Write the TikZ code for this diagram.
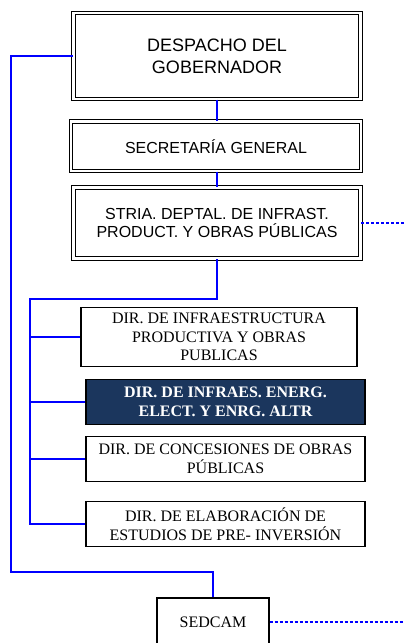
\documentclass[tikz,border=0pt]{standalone}
\usepackage{fontspec}
\setmainfont{Liberation Serif}
\newfontfamily\arialf{Liberation Sans}
\definecolor{navy}{HTML}{1B365D}
\definecolor{linkblue}{RGB}{0,0,255}
\begin{document}
\begin{tikzpicture}[x=1pt,y=-1pt,
  dbox/.style={draw=black,line width=1.1pt,double=white,double distance=2.6pt,
    inner sep=0pt,align=center,font=\arialf\fontsize{16}{18}\selectfont},
  sbox/.style={draw=black,line width=1.2pt,fill=white,inner sep=0pt,align=center,
    font=\fontsize{16}{18.5}\selectfont},
  link/.style={draw=linkblue,line width=1.4pt},
  dlink/.style={draw=linkblue,line width=1.3pt,dash pattern=on 3pt off 2pt}
]
\clip (0,0) rectangle (404,643);
\fill[white] (0,0) rectangle (404,643);
% top boxes
\node[dbox,minimum width=287pt,minimum height=86pt,font=\arialf\fontsize{18}{22}\selectfont]
  (desp) at (217,56) {DESPACHO DEL\\GOBERNADOR};
\node[dbox,minimum width=290pt,minimum height=49.5pt] (sec) at (216,146.3) {SECRETARÍA GENERAL};
\node[dbox,minimum width=287pt,minimum height=71pt] (stria) at (217,223)
  {STRIA. DEPTAL. DE INFRAST.\\PRODUCT. Y OBRAS PÚBLICAS};
% directions
\node[sbox,minimum width=276pt,minimum height=59pt] (dir1) at (219,337)
  {DIR. DE INFRAESTRUCTURA\\PRODUCTIVA Y OBRAS\\PUBLICAS};
\node[sbox,fill=navy,text=white,font=\bfseries\fontsize{16}{18.5}\selectfont,
  minimum width=279pt,minimum height=45pt] (dir2) at (225.5,402)
  {DIR. DE INFRAES. ENERG.\\ELECT. Y ENRG. ALTR};
\node[sbox,minimum width=279pt,minimum height=45pt] (dir3) at (225.5,459)
  {DIR. DE CONCESIONES DE OBRAS\\PÚBLICAS};
\node[sbox,minimum width=279pt,minimum height=45pt] (dir4) at (225.5,524)
  {DIR. DE ELABORACIÓN DE\\ESTUDIOS DE PRE- INVERSIÓN};
\node[sbox,minimum width=112pt,minimum height=48pt] (sedcam) at (213,622) {SEDCAM};
% coordinates
\coordinate (bus) at (30,299);
\coordinate (leftc) at (11,56);
\coordinate (low) at (11,572);
\coordinate (edgeA) at (404,223);
\coordinate (edgeB) at (404,622);
% connectors
\draw[link] (desp.west) -- (leftc) -- (low) -| (sedcam.north);
\draw[link] (sec.south -| desp.south) -- (stria.north);
\draw[link] (stria.south) |- (bus) -- (bus |- dir4.west) -- (dir4.west);
\draw[link] (bus |- dir1.west) -- (dir1.west);
\draw[link] (bus |- dir2.west) -- (dir2.west);
\draw[link] (bus |- dir3.west) -- (dir3.west);
\draw[dlink] (stria.east) -- (edgeA);
\draw[dlink] (sedcam.east) -- (edgeB);
\draw[link] (desp.south) -- (sec.north -| desp.south);
\end{tikzpicture}
\end{document}
